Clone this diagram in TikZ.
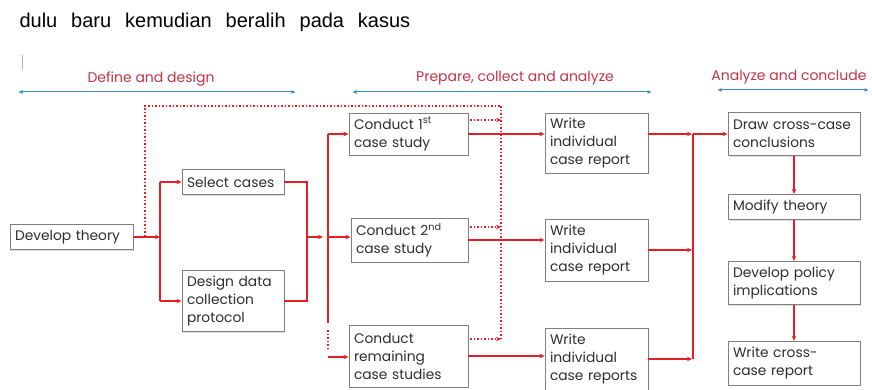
\documentclass[tikz,border=0pt]{standalone}
\usepackage{fontspec}
\setmainfont{Poppins}
\newfontfamily\introfont[WordSpace=2.5]{Liberation Sans}
\usetikzlibrary{positioning,calc,arrows.meta,shadows}

\definecolor{flowred}{HTML}{E41F26}
\definecolor{phasered}{HTML}{C23446}
\definecolor{phaseblue}{HTML}{3A8DBA}
\definecolor{boxgray}{HTML}{7F7F7F}
\definecolor{inkgray}{HTML}{2E2E2E}

\begin{document}
\begin{tikzpicture}[x=1pt,y=-1pt,
    stagebox/.style={draw=boxgray,fill=white,line width=0.9pt,align=left,
        inner xsep=5pt,inner ysep=1pt,text=inkgray,
        font=\fontsize{13.8}{18}\selectfont,
        drop shadow={shadow xshift=1.2pt,shadow yshift=-1.2pt,opacity=0.25}},
    phase/.style={text=phasered,font=\fontsize{14}{16}\selectfont},
    span/.style={phaseblue,line width=1pt,{Latex[length=4.5pt,width=4pt]}-{Latex[length=4.5pt,width=4pt]}},
    link/.style={flowred,line width=1.5pt},
    flow/.style={link,-{Stealth[length=5pt,width=4.5pt]}},
    loop/.style={flowred,line width=1.5pt,dotted},
    loopflow/.style={loop,-{Stealth[length=5pt,width=4.5pt]}},
    node distance=38pt]
    \useasboundingbox (0,0) rectangle (872,390);

    \node[anchor=west,font=\introfont\fontsize{20}{24}\selectfont] (intro) at (16,22) {dulu baru kemudian beralih pada kasus};
    \draw[gray!60,line width=0.8pt] (22,55) -- (22,70);

    % phases
    \node[phase] (define) at (151,79) {Define and design};
    \node[phase] (prepare) at (515,78) {Prepare, collect and analyze};
    \node[phase,anchor=east] (conclude) at (870,77) {Analyze and conclude};
    \coordinate (d1) at (18,92);  \coordinate (d2) at (296,92);
    \coordinate (p1) at (352,92); \coordinate (p2) at (652,92);
    \coordinate (k1) at (717,90); \coordinate (k2) at (869,90);
    \draw[span] (d1) -- (d2);
    \draw[span] (p1) -- (p2);
    \draw[span] (k1) -- (k2);

    % boxes
    \node[stagebox,text width=113pt,minimum height=25pt] (theory) at (71.5,237) {Develop theory};
    \node[stagebox,text width=92pt,minimum height=25pt] (select) at (233,182) {Select cases};
    \node[stagebox,text width=92pt,minimum height=61pt] (design) at (233,301) {Design data\\collection\\protocol};
    \node[stagebox,text width=109pt,minimum height=42pt] (case1) at (408.5,134) {Conduct 1\textsuperscript{st}\\case study};
    \node[stagebox,text width=107pt,minimum height=44pt] (case2) at (409.5,240) {Conduct 2\textsuperscript{nd}\\case study};
    \node[stagebox,text width=109pt,minimum height=62pt] (case3) at (408.5,356) {Conduct\\remaining\\case studies};
    \node[stagebox,text width=93pt,minimum height=60pt] (report1) at (596.5,143) {Write\\individual\\case report};
    \node[stagebox,text width=93pt,minimum height=62pt] (report2) at (596.5,250) {Write\\individual\\case report};
    \node[stagebox,text width=93pt,minimum height=62pt] (report3) at (596.5,359) {Write\\individual\\case reports};
    \node[stagebox,text width=122pt,minimum height=43pt] (cross) at (794,134) {Draw cross-case\\conclusions};
    \node[stagebox,text width=122pt,minimum height=25pt,below=38pt of cross] (modify) {Modify theory};
    \node[stagebox,text width=122pt,minimum height=43pt,below=41pt of modify] (policy) {Develop policy\\implications};
    \node[stagebox,text width=122pt,minimum height=44pt,below=36pt of policy] (final) {Write cross-\\case report};

    % buses
    \coordinate (busA) at (160,237);
    \coordinate (busB) at (307,237);
    \coordinate (busC) at (328,237);
    \coordinate (busD) at (693,237);
    \coordinate (busE) at (501,237);

    \draw[flow] (theory.east) -- (busA);
    \draw[link] (busA |- select) -- (busA |- design);
    \draw[flow] (busA |- select) -- (select.west);
    \draw[flow] (busA |- design) -- (design.west);

    \draw[link] (select.east) -| (busB |- design.east) -- (design.east);
    \draw[flow] (busB) -- ([xshift=-5pt]busC);
    \draw[link] (busC |- case1) -- (328,323);
    \draw[loop] (328,330) -- (328,351);
    \draw[flow] (busC |- case1) -- (case1.west);
    \draw[flow] (busC) -- (busC -| case2.west);
    \draw[flow] (328,357) -- (328,357 -| case3.west);

    % feedback loop
    \draw[loop] (145,236) -- (145,106) -| (busE |- 0,339);
    \draw[loopflow] ($(case1.east)+(2,-14)$) -- ($(busE |- case1.east)+(0,-14)$);
    \draw[loopflow] ($(case2.east)+(2,-13)$) -- ($(busE |- case2.east)+(0,-13)$);
    \draw[loopflow] ($(case3.east)+(2,-17)$) -- ($(busE |- case3.east)+(0,-17)$);

    \draw[flow] (case1.east) -- (case1.east -| report1.west);
    \draw[flow] (case2.east) -- (case2.east -| report2.west);
    \draw[flow] (case3.east) -- (case3.east -| report3.west);

    \draw[link] (busD |- cross) -- (busD |- report3);
    \draw[flow] (report1.east |- cross) -- ([xshift=-1pt]busD |- cross);
    \draw[flow] (busD |- cross) -- (cross.west);
    \draw[flow] (report2.east) -- ([xshift=-1pt]report2.east -| busD);
    \draw[flow] (report3.east) -- ([xshift=-1pt]report3.east -| busD);

    \draw[flow] (cross.south) -- (modify.north);
    \draw[flow] (modify.south) -- (policy.north);
    \draw[flow] (policy.south) -- (final.north);
\end{tikzpicture}
\end{document}
